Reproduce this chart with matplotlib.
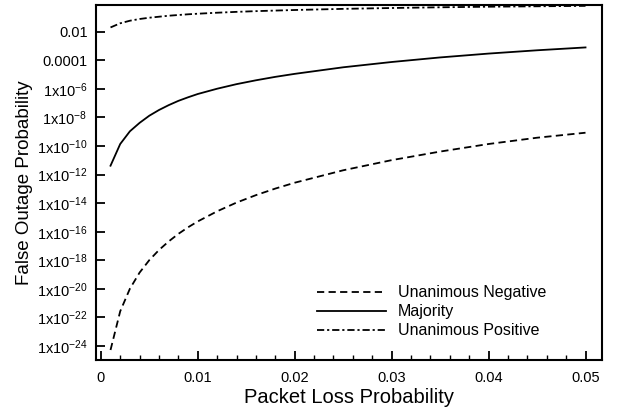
import numpy as np
import matplotlib.pyplot as plt
from matplotlib.ticker import FixedLocator, MultipleLocator

plt.rcParams['font.family'] = ['Liberation Sans', 'DejaVu Sans']
plt.rcParams['mathtext.fontset'] = 'custom'
plt.rcParams['mathtext.rm'] = 'Liberation Sans'
plt.rcParams['mathtext.it'] = 'Liberation Sans:italic'

# packet loss probability
loss = [0.001, 0.002, 0.003, 0.004, 0.005, 0.006, 0.007, 0.008, 0.009, 0.010,
        0.012, 0.014, 0.016, 0.018, 0.020, 0.025, 0.030, 0.035, 0.040, 0.045, 0.050]

# log10 of false outage probability
neg_log = [-24.28, -21.57, -19.99, -18.86, -17.99, -17.28, -16.68, -16.15, -15.69, -15.28,
           -14.57, -13.96, -13.44, -12.98, -12.57, -11.70, -10.99, -10.39, -9.86, -9.42, -9.07]
maj_log = [-11.38, -9.86, -8.97, -8.38, -7.88, -7.48, -7.14, -6.84, -6.59, -6.36,
           -5.99, -5.67, -5.40, -5.16, -4.95, -4.49, -4.12, -3.80, -3.53, -3.30, -3.10]
pos_log = [-1.70, -1.41, -1.23, -1.11, -1.02, -0.95, -0.88, -0.83, -0.78, -0.74,
           -0.67, -0.61, -0.56, -0.52, -0.48, -0.40, -0.34, -0.29, -0.25, -0.22, -0.19]

ytick_exp = [-24, -22, -20, -18, -16, -14, -12, -10, -8, -6, -4, -2]
xticks = [0, 0.01, 0.02, 0.03, 0.04, 0.05]
xtick_labels = ['0', '0.01', '0.02', '0.03', '0.04', '0.05']

fig = plt.figure(figsize=(6.18, 4.17), dpi=100)
ax = fig.add_axes([0.1553, 0.1367, 0.8188, 0.8513])

ax.plot(loss, np.power(10.0, neg_log), color='black', lw=1.3, dashes=(4, 2.4),
        label='Unanimous Negative')
ax.plot(loss, np.power(10.0, maj_log), color='black', lw=1.3, label='Majority')
ax.plot(loss, np.power(10.0, pos_log), color='black', lw=1.3,
        dashes=(4, 1.6, 1.2, 1.6), label='Unanimous Positive')

ax.set_yscale('log')
ax.set_xlim(-0.0005, 0.0517)
ax.set_ylim(10 ** -24.98, 10 ** -0.13)

ylabels = []
for e in ytick_exp:
    if e == -2:
        ylabels.append('0.01')
    elif e == -4:
        ylabels.append('0.0001')
    else:
        ylabels.append('1x10$^{%d}$' % e)
ax.yaxis.set_major_locator(FixedLocator([10.0 ** e for e in ytick_exp]))
ax.yaxis.set_minor_locator(FixedLocator([]))
ax.set_yticklabels(ylabels)
ax.set_xticks(xticks)
ax.set_xticklabels(xtick_labels)
ax.xaxis.set_minor_locator(MultipleLocator(0.002))

ax.tick_params(which='major', direction='in', length=6.5, width=1.3, labelsize=10.5,
               top=False, right=False)
ax.tick_params(axis='x', which='major', pad=8)
ax.tick_params(axis='y', which='major', pad=6)
ax.tick_params(which='minor', direction='in', length=3.5, width=1.0, top=False, right=False)
for s in ax.spines.values():
    s.set_linewidth(1.5)

ax.set_xlabel('Packet Loss Probability', fontsize=14.5, labelpad=2)
ax.set_ylabel('False Outage Probability', fontsize=13.5, labelpad=3)

ax.legend(loc='upper left', bbox_to_anchor=(0.437, 0.21), frameon=False, fontsize=11.5,
          handlelength=4.3, handletextpad=0.75, labelspacing=0.25,
          borderpad=0, borderaxespad=0)

fig.savefig('out.png', dpi=100)
